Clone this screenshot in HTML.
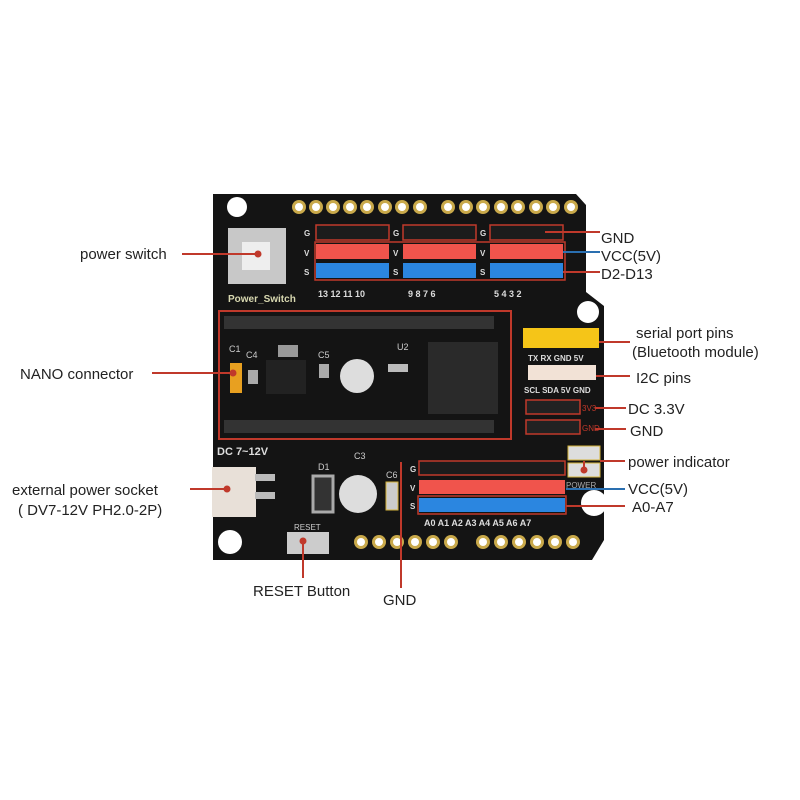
<!DOCTYPE html>
<html><head><meta charset="utf-8"><style>
html,body{margin:0;padding:0;background:#fff;}
svg{display:block}
text{font-family:"Liberation Sans",sans-serif;}
.lbl{font-size:15px;fill:#222;}
.pin{font-size:8px;fill:#ddd;font-weight:bold}
</style></head><body>
<svg width="800" height="800" viewBox="0 0 800 800" xmlns="http://www.w3.org/2000/svg">
<!-- board -->
<path d="M213 194 L576 194 L586 205 L586 292 L604 306 L604 540 L592 560 L213 560 Z" fill="#141414"/>
<!-- holes -->
<circle cx="237" cy="207" r="10" fill="#fff"/>
<circle cx="588" cy="312" r="11" fill="#fff"/>
<circle cx="594" cy="503" r="13" fill="#fff"/>
<circle cx="230" cy="542" r="12" fill="#fff"/>
<!-- top header pads -->
<g fill="#c9a94a">
<circle cx="299" cy="207" r="7"/><circle cx="316" cy="207" r="7"/><circle cx="333" cy="207" r="7"/><circle cx="350" cy="207" r="7"/><circle cx="367" cy="207" r="7"/><circle cx="385" cy="207" r="7"/><circle cx="402" cy="207" r="7"/><circle cx="420" cy="207" r="7"/>
<circle cx="448" cy="207" r="7"/><circle cx="466" cy="207" r="7"/><circle cx="483" cy="207" r="7"/><circle cx="501" cy="207" r="7"/><circle cx="518" cy="207" r="7"/><circle cx="536" cy="207" r="7"/><circle cx="553" cy="207" r="7"/><circle cx="571" cy="207" r="7"/>
<circle cx="361" cy="542" r="7"/><circle cx="379" cy="542" r="7"/><circle cx="397" cy="542" r="7"/><circle cx="415" cy="542" r="7"/><circle cx="433" cy="542" r="7"/><circle cx="451" cy="542" r="7"/>
<circle cx="483" cy="542" r="7"/><circle cx="501" cy="542" r="7"/><circle cx="519" cy="542" r="7"/><circle cx="537" cy="542" r="7"/><circle cx="555" cy="542" r="7"/><circle cx="573" cy="542" r="7"/>
</g>
<g fill="#fff"><circle cx="299" cy="207" r="4"/><circle cx="316" cy="207" r="4"/><circle cx="333" cy="207" r="4"/><circle cx="350" cy="207" r="4"/><circle cx="367" cy="207" r="4"/><circle cx="385" cy="207" r="4"/><circle cx="402" cy="207" r="4"/><circle cx="420" cy="207" r="4"/><circle cx="448" cy="207" r="4"/><circle cx="466" cy="207" r="4"/><circle cx="483" cy="207" r="4"/><circle cx="501" cy="207" r="4"/><circle cx="518" cy="207" r="4"/><circle cx="536" cy="207" r="4"/><circle cx="553" cy="207" r="4"/><circle cx="571" cy="207" r="4"/>
<circle cx="361" cy="542" r="4"/><circle cx="379" cy="542" r="4"/><circle cx="397" cy="542" r="4"/><circle cx="415" cy="542" r="4"/><circle cx="433" cy="542" r="4"/><circle cx="451" cy="542" r="4"/><circle cx="483" cy="542" r="4"/><circle cx="501" cy="542" r="4"/><circle cx="519" cy="542" r="4"/><circle cx="537" cy="542" r="4"/><circle cx="555" cy="542" r="4"/><circle cx="573" cy="542" r="4"/></g>
<!-- power switch -->
<rect x="228" y="228" width="58" height="56" fill="#c8c8c8"/>
<rect x="242" y="242" width="28" height="28" fill="#eee"/>
<text x="228" y="302" font-size="10" font-weight="bold" fill="#d8d8b0">Power_Switch</text>
<!-- GVS top headers -->
<g>
<rect x="316" y="225" width="73" height="15" fill="#1c1c1c" stroke="#c0392b" stroke-width="1.5"/>
<rect x="403" y="225" width="73" height="15" fill="#1c1c1c" stroke="#c0392b" stroke-width="1.5"/>
<rect x="490" y="225" width="73" height="15" fill="#1c1c1c" stroke="#c0392b" stroke-width="1.5"/>
<rect x="316" y="244" width="73" height="15" fill="#f0544c"/>
<rect x="403" y="244" width="73" height="15" fill="#f0544c"/>
<rect x="490" y="244" width="73" height="15" fill="#f0544c"/>
<rect x="316" y="263" width="73" height="15" fill="#2b86e0"/>
<rect x="403" y="263" width="73" height="15" fill="#2b86e0"/>
<rect x="490" y="263" width="73" height="15" fill="#2b86e0"/>
<rect x="315" y="242" width="250" height="38" fill="none" stroke="#c0392b" stroke-width="1.5"/>
</g>
<g class="pin"><text x="304" y="236">G</text><text x="304" y="256">V</text><text x="304" y="275">S</text>
<text x="393" y="236">G</text><text x="393" y="256">V</text><text x="393" y="275">S</text>
<text x="480" y="236">G</text><text x="480" y="256">V</text><text x="480" y="275">S</text>
<text x="318" y="297" font-size="9">13  12  11  10</text><text x="408" y="297" font-size="9">9    8    7    6</text><text x="494" y="297" font-size="9">5    4    3    2</text></g>
<!-- nano socket -->
<rect x="219" y="311" width="292" height="128" fill="none" stroke="#c0392b" stroke-width="2"/>
<rect x="224" y="316" width="270" height="13" fill="#333"/>
<rect x="224" y="420" width="270" height="13" fill="#333"/>
<rect x="230" y="363" width="12" height="30" fill="#e8a020"/>
<rect x="248" y="370" width="10" height="14" fill="#aaa"/>
<rect x="266" y="360" width="40" height="34" fill="#222"/>
<rect x="278" y="345" width="20" height="12" fill="#999"/>
<rect x="319" y="364" width="10" height="14" fill="#aaa"/>
<circle cx="357" cy="376" r="17" fill="#ddd"/>
<rect x="428" y="342" width="70" height="72" fill="#2a2a2a"/>
<rect x="388" y="364" width="20" height="8" fill="#bbb"/>
<text x="229" y="352" font-size="9" fill="#ccc">C1</text><text x="246" y="358" font-size="9" fill="#ccc">C4</text><text x="318" y="358" font-size="9" fill="#ccc">C5</text><text x="397" y="350" font-size="9" fill="#ccc">U2</text>
<!-- serial/I2C -->
<rect x="523" y="328" width="76" height="20" fill="#f5c518"/>
<text x="528" y="361" class="pin">TX RX GND 5V</text>
<rect x="528" y="365" width="68" height="15" fill="#f2e2d6"/>
<text x="524" y="393" class="pin">SCL SDA 5V GND</text>
<rect x="526" y="400" width="54" height="14" fill="#222" stroke="#c0392b" stroke-width="1.5"/>
<rect x="526" y="420" width="54" height="14" fill="#222" stroke="#c0392b" stroke-width="1.5"/>
<text x="582" y="411" font-size="8" fill="#c0392b">3V3</text><text x="582" y="431" font-size="8" fill="#c0392b">GND</text>
<!-- lower area -->
<text x="217" y="455" font-size="11" font-weight="bold" fill="#ddd">DC 7~12V</text>
<rect x="212" y="467" width="44" height="50" fill="#e8e0d8"/>
<rect x="255" y="474" width="20" height="7" fill="#bbb"/><rect x="255" y="492" width="20" height="7" fill="#bbb"/>
<rect x="313" y="476" width="20" height="36" fill="#333" stroke="#aaa" stroke-width="3"/>
<circle cx="358" cy="494" r="19" fill="#ddd"/>
<rect x="386" y="482" width="12" height="28" fill="#ccc" stroke="#d4b23a"/>
<text x="318" y="470" font-size="9" fill="#ccc">D1</text><text x="354" y="459" font-size="9" fill="#ccc">C3</text><text x="386" y="478" font-size="9" fill="#ccc">C6</text>
<rect x="287" y="532" width="42" height="22" fill="#ccc"/>
<text x="294" y="530" font-size="8" fill="#ccc">RESET</text>
<rect x="419" y="461" width="146" height="14" fill="#1c1c1c" stroke="#c0392b" stroke-width="1.5"/>
<rect x="419" y="480" width="146" height="14" fill="#f0544c"/>
<rect x="419" y="498" width="146" height="14" fill="#2b86e0"/>
<rect x="418" y="496" width="148" height="18" fill="none" stroke="#c0392b" stroke-width="1.5"/>
<g class="pin"><text x="410" y="472">G</text><text x="410" y="491">V</text><text x="410" y="509">S</text>
<text x="424" y="526" font-size="9">A0  A1  A2  A3  A4  A5  A6  A7</text></g>
<rect x="568" y="446" width="32" height="14" fill="#ddd" stroke="#d4b23a"/>
<rect x="568" y="463" width="32" height="14" fill="#ddd" stroke="#d4b23a"/>
<text x="566" y="488" font-size="8" fill="#aaa">POWER</text>
<!-- connectors -->
<g stroke-width="2" fill="none">
<line x1="182" y1="254" x2="258" y2="254" stroke="#c0392b"/>
<line x1="545" y1="232" x2="600" y2="232" stroke="#c0392b"/>
<line x1="563" y1="252" x2="600" y2="252" stroke="#2a6fb0"/>
<line x1="563" y1="272" x2="600" y2="272" stroke="#c0392b"/>
<line x1="599" y1="342" x2="630" y2="342" stroke="#c0392b"/>
<line x1="596" y1="376" x2="630" y2="376" stroke="#c0392b"/>
<line x1="595" y1="408" x2="626" y2="408" stroke="#c0392b"/>
<line x1="595" y1="429" x2="626" y2="429" stroke="#c0392b"/>
<line x1="152" y1="373" x2="233" y2="373" stroke="#c0392b"/>
<line x1="190" y1="489" x2="227" y2="489" stroke="#c0392b"/>
<line x1="584" y1="470" x2="584" y2="461" stroke="#c0392b"/>
<line x1="600" y1="461" x2="625" y2="461" stroke="#c0392b"/>
<line x1="566" y1="489" x2="625" y2="489" stroke="#2a6fb0"/>
<line x1="566" y1="506" x2="625" y2="506" stroke="#c0392b"/>
<line x1="303" y1="541" x2="303" y2="578" stroke="#c0392b"/>
<line x1="401" y1="462" x2="401" y2="588" stroke="#c0392b"/>
</g>
<g fill="#c0392b"><circle cx="258" cy="254" r="3.5"/><circle cx="233" cy="373" r="3.5"/><circle cx="227" cy="489" r="3.5"/><circle cx="303" cy="541" r="3.5"/><circle cx="584" cy="470" r="3.5"/></g>
<!-- labels -->
<text class="lbl" x="80" y="259">power switch</text>
<text class="lbl" x="601" y="243">GND</text>
<text class="lbl" x="601" y="261">VCC(5V)</text>
<text class="lbl" x="601" y="279">D2-D13</text>
<text class="lbl" x="636" y="338">serial port pins</text>
<text class="lbl" x="632" y="357">(Bluetooth module)</text>
<text class="lbl" x="20" y="379">NANO connector</text>
<text class="lbl" x="636" y="383">I2C pins</text>
<text class="lbl" x="628" y="414">DC 3.3V</text>
<text class="lbl" x="630" y="436">GND</text>
<text class="lbl" x="628" y="467">power indicator</text>
<text class="lbl" x="628" y="494">VCC(5V)</text>
<text class="lbl" x="632" y="512">A0-A7</text>
<text class="lbl" x="12" y="495">external power socket</text>
<text class="lbl" x="18" y="515">( DV7-12V PH2.0-2P)</text>
<text class="lbl" x="253" y="596">RESET Button</text>
<text class="lbl" x="383" y="605">GND</text>
</svg>
</body></html>
